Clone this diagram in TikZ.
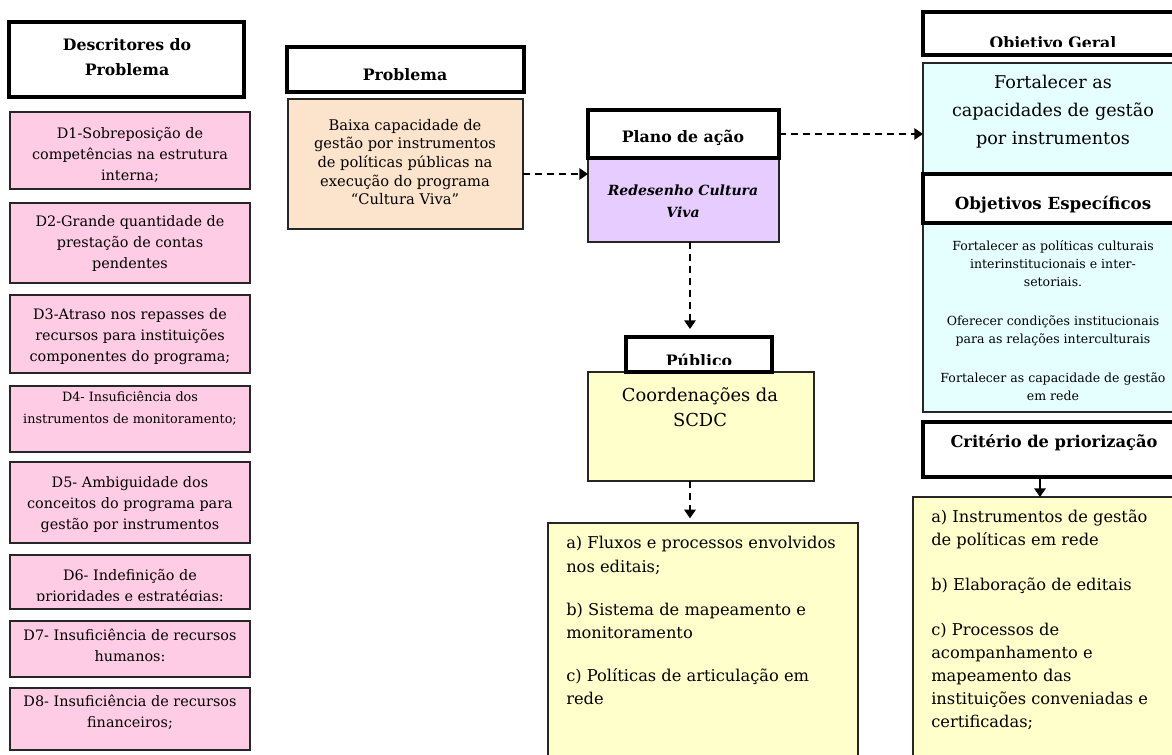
\documentclass[tikz,border=0pt]{standalone}
\usepackage{fontspec}
\setmainfont{DejaVu Serif}
\usetikzlibrary{arrows.meta}
\definecolor{pinkc}{RGB}{255,204,229}
\definecolor{peachc}{RGB}{252,228,204}
\definecolor{lavc}{RGB}{230,204,255}
\definecolor{yelc}{RGB}{255,255,204}
\definecolor{cyanc}{RGB}{229,255,255}
\newcommand\fz[2]{\fontsize{#1}{#2}\selectfont}
\newcommand\bx[6]{\node[#2, anchor=north west, minimum width={(#5-#3)*0.75pt}, minimum height={(#6-#4)*0.75pt}] (#1) at (#3,#4) {};}
\tikzset{
  cbox/.style={draw=black!85, line width=1.1pt, inner sep=0pt, outer sep=0pt},
  hbox/.style={draw=black, line width=2.4pt, fill=white, inner sep=0pt, outer sep=0pt},
  arr/.style={line width=1.5pt, dash pattern=on 5.5pt off 3.5pt, -{Triangle[length=6.5pt,width=8.5pt]}},
  sarr/.style={line width=1.5pt, -{Triangle[length=6.5pt,width=8.5pt]}},
  tx/.style={inner sep=0pt, align=center},
  dtx/.style={tx, font=\fz{10.8pt}{15.75pt}},
  htx/.style={tx, font=\bfseries\fz{11.8pt}{18.75pt}},
}
\begin{document}
\begin{tikzpicture}[x=0.75pt,y=-0.75pt]
\useasboundingbox (0,0) rectangle (1172,754);
\clip (0,0) rectangle (1172,754);
\fill[white] (0,0) rectangle (1172,754);

% content boxes
\bx{d1}{cbox,fill=pinkc}{10}{112}{250}{189}
\bx{d2}{cbox,fill=pinkc}{10}{203}{250}{283}
\bx{d3}{cbox,fill=pinkc}{10}{295}{250}{373}
\bx{d4}{cbox,fill=pinkc}{10}{386}{250}{452}
\bx{d5}{cbox,fill=pinkc}{10}{462}{250}{543}
\bx{d6}{cbox,fill=pinkc}{10}{555}{250}{609}
\bx{d7}{cbox,fill=pinkc}{10}{621}{250}{677}
\bx{d8}{cbox,fill=pinkc}{10}{688}{250}{750}
\bx{prob}{cbox,fill=peachc}{288}{99}{523}{229}
\bx{plan}{cbox,fill=lavc}{588}{158}{779}{242}
\bx{pub}{cbox,fill=yelc}{588}{372}{814}{481}
\bx{list}{cbox,fill=yelc}{548}{523}{858}{780}
\bx{og}{cbox,fill=cyanc}{923}{63}{1185}{173}
\bx{oe}{cbox,fill=cyanc}{923}{223}{1185}{412}
\bx{cr}{cbox,fill=yelc}{913}{497}{1185}{780}

% headers
\bx{desc}{hbox}{9}{22}{244}{97}
\bx{probh}{hbox}{287}{47}{524}{92}
\bx{planh}{hbox}{588}{110}{779}{158}
\bx{pubh}{hbox}{626}{337}{772}{372}
\bx{ogh}{hbox}{923}{12}{1185}{55}
\bx{oeh}{hbox}{923}{174}{1185}{223}
\bx{crh}{hbox}{923}{422}{1185}{477}

% texts
\node[htx] (tdesc) at (127,57.5) {Descritores do\\Problema};
\node[dtx] (td1) at (130,155) {D1-Sobreposição de\\competências na estrutura\\interna;};
\node[dtx] (td2) at (130,244) {D2-Grande quantidade de\\prestação de contas\\pendentes};
\node[dtx] (td3) at (130,337) {D3-Atraso nos repasses de\\recursos para instituições\\componentes do programa;};
\node[tx, font=\fz{9.6pt}{16.5pt}] (td4) at (130,408) {D4- Insuficiência dos\\instrumentos de monitoramento;};
\node[dtx] (td5) at (130,505) {D5- Ambiguidade dos\\conceitos do programa para\\gestão por instrumentos};
\begin{scope}
\clip (10,556) rectangle (250,600);
\node[dtx] (td6) at (130,587) {D6- Indefinição de\\prioridades e estratégias:};
\end{scope}
\node[dtx] (td7) at (130,645) {D7- Insuficiência de recursos\\humanos:};
\node[dtx] (td8) at (130,712) {D8- Insuficiência de recursos\\financeiros;};

\node[htx] (tprobh) at (405,75) {Problema};
\node[tx, font=\fz{11pt}{14pt}] (tprob) at (405,162) {Baixa capacidade de\\gestão por instrumentos\\de políticas públicas na\\execução do programa\\“Cultura Viva”};

\node[htx] (tplanh) at (683,138) {Plano de ação};
\node[tx, font=\bfseries\itshape\fz{10.5pt}{16.5pt}] (tplan) at (683,201) {Redesenho Cultura\\Viva};

\begin{scope}
\clip (627,338) rectangle (771,364.5);
\node[htx, anchor=base] (tpubh) at (699,366) {Público};
\end{scope}
\node[tx, font=\fz{13.4pt}{18.75pt}] (tpub) at (700,407.5) {Coordenações da\\SCDC};
\node[inner sep=0pt, align=left, anchor=north west, font=\fz{12.2pt}{17.6pt}] (tlist) at (566,536)
  {a) Fluxos e processos envolvidos\\nos editais;\\[14.6pt]b) Sistema de mapeamento e\\monitoramento\\[14.6pt]c) Políticas de articulação em\\rede};

\begin{scope}
\clip (924,13) rectangle (1172,46.5);
\node[htx, anchor=base] (togh) at (1053,48) {Objetivo Geral};
\end{scope}
\node[tx, font=\fz{13.2pt}{21pt}] (tog) at (1053,111.5) {Fortalecer as\\capacidades de gestão\\por instrumentos};
\node[tx, font=\bfseries\fz{12.5pt}{15pt}] (toeh) at (1053,205) {Objetivos Específicos};
\node[tx, font=\fz{9.4pt}{13.5pt}] (toe) at (1053,321) {Fortalecer as políticas culturais\\interinstitucionais e inter-\\setoriais.\\[15.75pt]Oferecer condições institucionais\\para as relações interculturais\\[15.75pt]Fortalecer as capacidade de gestão\\em rede};
\node[tx, font=\bfseries\fz{12.2pt}{15pt}] (tcrh) at (1054,443) {Critério de priorização};
\node[inner sep=0pt, align=left, anchor=north west, font=\fz{12.2pt}{17.25pt}] (tcr) at (931,510)
  {a) Instrumentos de gestão\\de políticas em rede\\[16.5pt]b) Elaboração de editais\\[16.5pt]c) Processos de\\acompanhamento e\\mapeamento das\\instituições conveniadas e\\certificadas;};

% connectors
\coordinate (ya) at (0,174);
\coordinate (yb) at (0,134);
\coordinate (xa) at (690,0);
\coordinate (xc) at (1040,0);
\draw[arr] (prob.east |- ya) -- (plan.west |- ya);
\draw[arr] (planh.east |- yb) -- (og.west |- yb);
\draw[arr, shorten >=6pt] (plan.south -| xa) -- (pubh.north -| xa);
\draw[arr, shorten >=3.5pt] (pub.south -| xa) -- (list.north -| xa);
\draw[sarr] (crh.south -| xc) -- (cr.north -| xc);
\end{tikzpicture}
\end{document}
